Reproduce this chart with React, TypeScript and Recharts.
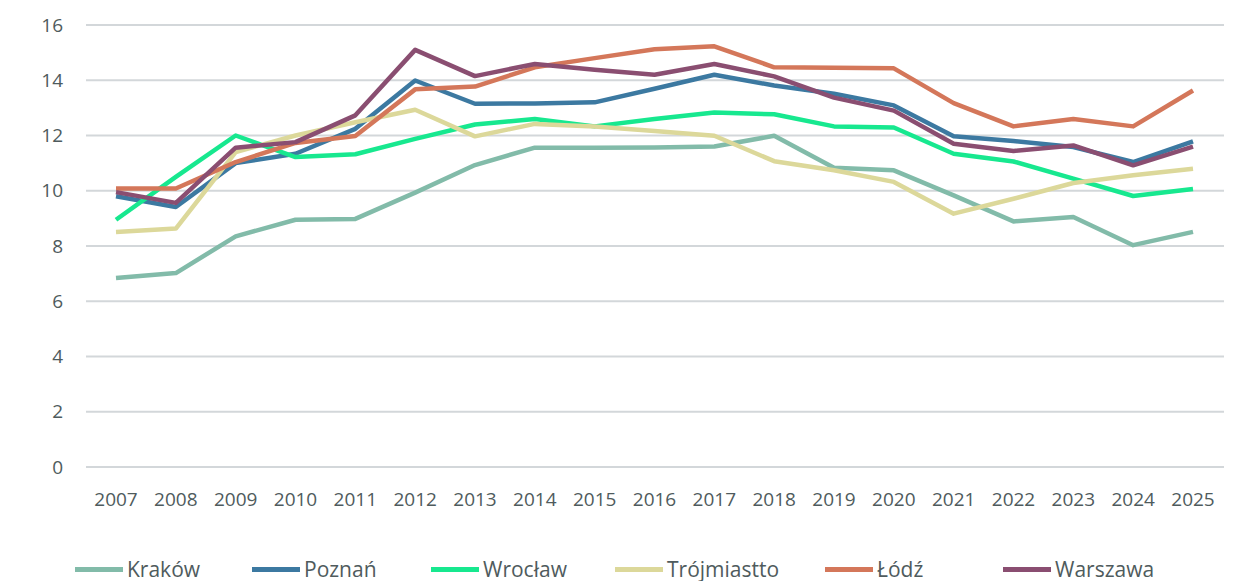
import { LineChart, Line, XAxis, YAxis, CartesianGrid } from 'recharts';

const years = ['2007', '2008', '2009', '2010', '2011', '2012', '2013', '2014', '2015', '2016', '2017', '2018', '2019', '2020', '2021', '2022', '2023', '2024', '2025'];

const krakow = [6.84, 7.02, 8.35, 8.95, 8.98, 9.93, 10.93, 11.56, 11.56, 11.57, 11.6, 11.99, 10.83, 10.74, 9.83, 8.89, 9.05, 8.03, 8.51];
const poznan = [9.8, 9.41, 11.0, 11.34, 12.24, 13.99, 13.15, 13.16, 13.2, 13.69, 14.2, 13.81, 13.51, 13.09, 11.97, 11.8, 11.58, 11.04, 11.79];
const wroclaw = [8.95, 10.5, 12.0, 11.22, 11.32, 11.88, 12.4, 12.6, 12.33, 12.6, 12.83, 12.77, 12.33, 12.29, 11.34, 11.06, 10.44, 9.81, 10.06];
const trojmiasto = [8.51, 8.63, 11.4, 12.0, 12.48, 12.93, 11.97, 12.42, 12.33, 12.16, 11.99, 11.07, 10.74, 10.32, 9.17, 9.71, 10.28, 10.56, 10.8];
const lodz = [10.08, 10.08, 11.04, 11.73, 11.98, 13.67, 13.77, 14.47, 14.8, 15.12, 15.23, 14.47, 14.45, 14.43, 13.17, 12.33, 12.6, 12.33, 13.63];
const warszawa = [9.95, 9.56, 11.56, 11.76, 12.73, 15.1, 14.15, 14.59, 14.38, 14.2, 14.59, 14.14, 13.37, 12.9, 11.7, 11.44, 11.64, 10.92, 11.6];

const yTicks = [0, 2, 4, 6, 8, 10, 12, 14, 16];

const series = [
  { key: 'krakow', name: 'Kraków', values: krakow, color: '#82bba9' },
  { key: 'poznan', name: 'Poznań', values: poznan, color: '#3c79a1' },
  { key: 'wroclaw', name: 'Wrocław', values: wroclaw, color: '#17e88f' },
  { key: 'trojmiasto', name: 'Trójmiastto', values: trojmiasto, color: '#dcd89a' },
  { key: 'lodz', name: 'Łódź', values: lodz, color: '#d4775a' },
  { key: 'warszawa', name: 'Warszawa', values: warszawa, color: '#8a4e71' },
];

const data = years.map((year, i) => {
  const row: Record<string, string | number> = { year };
  series.forEach((s) => {
    row[s.key] = s.values[i];
  });
  return row;
});

const FONT = '"Open Sans", sans-serif';
const TEXT = '#4f5b5d';

// legend slot widths, Excel spaces them a bit unevenly
const legendWidths = [177, 179, 184, 210, 178, 180];

const App = () => {
  return (
    <div style={{ position: 'relative', width: 1235, height: 573, fontFamily: FONT }}>
      <LineChart width={1235} height={520} data={data} margin={{ top: 17, right: 19, left: 0, bottom: 0 }}>
        <CartesianGrid vertical={false} stroke="#d3d7da" strokeWidth={2} />
        <XAxis
          dataKey="year"
          height={61}
          padding={{ left: 30, right: 31 }}
          axisLine={false}
          tickLine={false}
          tickMargin={20}
          interval={0}
          tick={{ fill: TEXT, fontSize: 19, fontFamily: FONT }}
        />
        <YAxis
          width={78}
          domain={[0, 16]}
          ticks={yTicks}
          axisLine={false}
          tickLine={false}
          tickMargin={17}
          tick={{ fill: TEXT, fontSize: 19, fontFamily: FONT }}
        />
        {series.map((s) => (
          <Line
            key={s.key}
            dataKey={s.key}
            name={s.name}
            stroke={s.color}
            strokeWidth={4.5}
            dot={false}
            activeDot={false}
            type="linear"
            strokeLinejoin="round"
            isAnimationActive={false}
          />
        ))}
      </LineChart>

      {/* Legend */}
      <div style={{ position: 'absolute', left: 67, top: 551, display: 'flex', alignItems: 'center' }}>
        {series.map((s, i) => (
          <div key={s.key} style={{ width: legendWidths[i], display: 'flex', alignItems: 'center' }}>
            <div style={{ width: 48, height: 5, backgroundColor: s.color, marginRight: 4 }}></div>
            <span style={{ fontSize: 21, color: TEXT, lineHeight: '21px' }}>{s.name}</span>
          </div>
        ))}
      </div>
    </div>
  );
};

export default App;
